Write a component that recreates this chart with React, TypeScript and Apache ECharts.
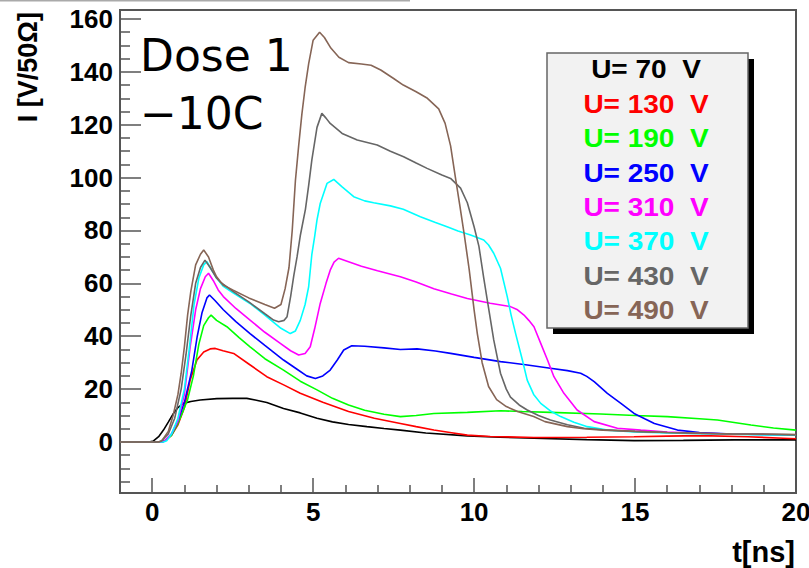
import React, { useEffect, useRef } from "react";
import * as echarts from "echarts";

// ---------- data (t in ns, I in V/50Ω) ----------
const labels = ["U= 70  V", "U= 130  V", "U= 190  V", "U= 250  V", "U= 310  V", "U= 370  V", "U= 430  V", "U= 490  V"];
const colors = ["#000000", "#ff0000", "#00ff00", "#0000ff", "#ff00ff", "#00ffff", "#666666", "#866556"];

const u70: [number, number][] = [
  [-1, 0], [-0.1, 0], [0.04, 0.4], [0.2, 2], [0.35, 4.5], [0.5, 7.5], [0.66, 10.8], [0.8, 13], [0.97, 14.6],
  [1.2, 15.3], [1.49, 15.9], [2.01, 16.4], [2.5, 16.5], [2.94, 16.5], [3.2, 15.9], [3.56, 14.9], [4.08, 12.7],
  [4.6, 11], [5.12, 9], [5.6, 7.6], [6.1, 6.6], [6.67, 5.8], [7.2, 5.1], [7.71, 4.5], [8.5, 3.4], [9.79, 2.3],
  [10.8, 1.8], [11.86, 1.4], [13.5, 0.9], [14.97, 0.5], [16.5, 0.6], [18.08, 0.8], [20, 0.8],
];
const u130: [number, number][] = [
  [-1, 0], [0.3, 0], [0.4, 0.5], [0.6, 2.5], [0.8, 6.5], [1.0, 13], [1.18, 23.4], [1.39, 31], [1.6, 34],
  [1.8, 35.2], [1.96, 35.4], [2.2, 34.5], [2.53, 33.5], [3.0, 29.5], [3.56, 24.7], [4.1, 21.5], [4.6, 18.4],
  [5.3, 15], [6.1, 11.5], [6.9, 9], [7.71, 7], [8.2, 5.8], [8.75, 4.5], [9.3, 3.5], [9.79, 2.6], [10.5, 2.1],
  [11.86, 1.7], [13.5, 1.8], [14.97, 2], [16, 2.2], [17.05, 2.4], [18.5, 2], [19.6, 1.4], [20, 1.2],
];
const u190: [number, number][] = [
  [-1, 0], [0.3, 0], [0.4, 0.5], [0.6, 2.5], [0.8, 7], [1.0, 13], [1.1, 16], [1.28, 25], [1.45, 37], [1.6, 44],
  [1.75, 47], [1.83, 48], [2.0, 46], [2.32, 43.6], [2.7, 39.5], [3.04, 36], [3.5, 31.5], [4.08, 27.2], [4.6, 23],
  [5.12, 19.7], [5.6, 16.5], [6.1, 14], [6.6, 12], [7.2, 10.5], [7.71, 9.6], [8.2, 10], [8.75, 10.8], [9.79, 11.2],
  [10.82, 11.8], [11.5, 11.5], [12.37, 11.2], [13.93, 10.6], [15, 10], [16, 9.6], [17, 8.8], [17.56, 8.3],
  [18.6, 6.4], [19.3, 5.3], [20, 4.5],
];
const u250: [number, number][] = [
  [-1, 0], [0.3, 0], [0.4, 0.5], [0.6, 3], [0.8, 8], [1.0, 15], [1.23, 27], [1.4, 40], [1.55, 49], [1.7, 54.5],
  [1.78, 55.6], [1.95, 53.5], [2.21, 50], [2.6, 45.5], [3.04, 41], [3.5, 36.5], [4.08, 31], [4.5, 27.5], [4.8, 25],
  [5.07, 24], [5.3, 25], [5.53, 27.2], [5.75, 31], [5.95, 34.8], [6.2, 36.4], [6.6, 36.2], [7.2, 35.6], [7.71, 35],
  [8.23, 35.2], [8.8, 34.4], [9.27, 33.5], [10.0, 32], [10.82, 30.4], [11.6, 29.2], [12.37, 27.9], [12.9, 27],
  [13.31, 26], [13.5, 24.8], [13.73, 22.8], [14.14, 18.4], [14.56, 14.6], [14.97, 10.8], [15.3, 8.8], [15.6, 7],
  [16.32, 4.5], [17, 3.6], [18, 3], [19, 2.8], [20, 2.7],
];
const u310: [number, number][] = [
  [-1, 0], [0.3, 0], [0.4, 0.5], [0.6, 3], [0.8, 8], [1.0, 18], [1.18, 36], [1.35, 50], [1.5, 58], [1.65, 62.5],
  [1.75, 63.8], [1.9, 61], [2.05, 57.5], [2.21, 55], [2.6, 50.5], [3.04, 46.1], [3.5, 41.5], [3.98, 37.3],
  [4.3, 34.5], [4.55, 32.9], [4.75, 33.5], [4.91, 36], [5.05, 43], [5.22, 52.4], [5.4, 60], [5.53, 65], [5.65, 68],
  [5.79, 69.5], [6.1, 68.2], [6.5, 66.5], [7.0, 64.8], [7.71, 62.5], [8.2, 60.5], [8.75, 58], [9.3, 56],
  [9.79, 54.3], [10.5, 52.5], [11.13, 51.2], [11.35, 50], [11.55, 48], [11.7, 46], [11.86, 43.6], [12.07, 37.3],
  [12.28, 31], [12.48, 24.7], [12.79, 18.4], [13.2, 12.1], [13.73, 7.7], [14.45, 5.2], [15.18, 4.5], [16, 3.8],
  [17, 3.3], [18, 3], [19, 2.8], [20, 2.6],
];
const u370: [number, number][] = [
  [-1, 0], [0.35, 0], [0.45, 0.5], [0.6, 3], [0.8, 9], [1.0, 20], [1.15, 35], [1.3, 52], [1.45, 62], [1.6, 67],
  [1.7, 68.2], [1.85, 65], [2.0, 62], [2.2, 59], [2.5, 56.5], [3.04, 52.4], [3.5, 48], [4.0, 43], [4.29, 41],
  [4.45, 42], [4.6, 46], [4.75, 52], [4.86, 58.7], [4.96, 71], [5.05, 78], [5.12, 84], [5.22, 90.2], [5.43, 97.8],
  [5.64, 99.3], [5.9, 96.5], [6.26, 92.8], [6.6, 91.2], [6.88, 90.5], [7.4, 89.3], [7.8, 88], [8.33, 85.2],
  [8.8, 83], [9.16, 81.4], [9.5, 79.8], [9.89, 78.3], [10.3, 76.4], [10.45, 74.5], [10.61, 71.4], [10.82, 65.7],
  [11.03, 55], [11.15, 48], [11.29, 41], [11.5, 31], [11.65, 23.4], [11.85, 18], [12.07, 14.6], [12.4, 11.5],
  [12.69, 9.6], [13.1, 7.5], [13.52, 5.8], [14.14, 4.5], [15, 3.8], [16, 3.4], [17, 3.1], [18, 2.9], [19, 2.7],
  [20, 2.6],
];
const u430: [number, number][] = [
  [-1, 0], [0.2, 0], [0.3, 0.5], [0.5, 3], [0.7, 9], [0.9, 20], [1.05, 33], [1.2, 48], [1.35, 60], [1.5, 66],
  [1.64, 68.8], [1.8, 66], [2.0, 62], [2.11, 60.6], [2.53, 56.8], [3.0, 53], [3.5, 48.5], [3.77, 46.1],
  [3.93, 45.5], [4.1, 46], [4.19, 47.4], [4.3, 55], [4.4, 63], [4.5, 70], [4.6, 78], [4.76, 88], [4.86, 97],
  [4.96, 106.7], [5.12, 119], [5.27, 124.3], [5.4, 122.5], [5.53, 120.5], [5.9, 116.7], [6.37, 114.2],
  [6.99, 112.3], [7.4, 110], [7.81, 107.9], [8.2, 105.5], [8.54, 103.5], [9.0, 101], [9.27, 99.7], [9.58, 96],
  [9.79, 90.5], [10.0, 81.4], [10.15, 74], [10.3, 62], [10.41, 53.7], [10.61, 38.6], [10.82, 26], [11.0, 20],
  [11.13, 17], [11.4, 14], [11.65, 12.1], [12.0, 10], [12.37, 8.3], [12.9, 6.5], [13.42, 5.2], [14, 4.6],
  [15, 4], [16, 3.6], [17, 3.3], [18, 3], [19, 2.9], [20, 2.7],
];
const u490: [number, number][] = [
  [-1, 0], [0.2, 0], [0.3, 0.5], [0.5, 4], [0.65, 10], [0.8, 18], [0.9, 26], [1.0, 36], [1.1, 48], [1.2, 57],
  [1.35, 67], [1.5, 71], [1.6, 72.6], [1.75, 70], [1.9, 65], [2.0, 62.5], [2.2, 59.4], [2.5, 57.5], [3.0, 54.5],
  [3.5, 52], [3.8, 50.6], [4.0, 52], [4.13, 58], [4.25, 66], [4.35, 80], [4.45, 99], [4.55, 112], [4.65, 124],
  [4.75, 134], [4.86, 143], [5.0, 152], [5.2, 155], [5.35, 153], [5.55, 149], [5.8, 145.5], [6.1, 143.5],
  [6.5, 143], [6.8, 142.5], [7.1, 140.7], [7.5, 137.5], [7.8, 135], [8.2, 132.5], [8.55, 130], [8.9, 126],
  [9.1, 120.5], [9.27, 112], [9.42, 100], [9.55, 90], [9.7, 78], [9.85, 65], [10.0, 50], [10.1, 41], [10.25, 30],
  [10.45, 21], [10.7, 16], [11.0, 13.4], [11.35, 11.5], [11.85, 9.6], [12.2, 7.7], [12.9, 5.8], [13.4, 5],
  [14, 4.5], [15, 4], [16, 3.6], [17, 3.3], [18, 3], [19, 3], [20, 2.8],
];
const seriesData = [u70, u130, u190, u250, u310, u370, u430, u490];

const xMajor = [0, 5, 10, 15, 20];
const xMinor = [-1, 1, 2, 3, 4, 6, 7, 8, 9, 11, 12, 13, 14, 16, 17, 18, 19];
const yMajor = [0, 20, 40, 60, 80, 100, 120, 140, 160];
const yMinor = [-15, -10, -5, 5, 10, 15, 25, 30, 35, 45, 50, 55, 65, 70, 75, 85, 90, 95, 105, 110, 115, 125, 130, 135, 145, 150, 155];

const X_MIN = -1, X_MAX = 20, Y_MIN = -19.3, Y_MAX = 163.4;
const FONT = "'Liberation Sans', Arial, sans-serif";
const AX = "#555555";

export default function App() {
  const ref = useRef<HTMLDivElement>(null);
  useEffect(() => {
    if (!ref.current) return;
    const chart = echarts.init(ref.current, undefined, { renderer: "svg" });
    const baseAxis = (isX: boolean) => ({
      type: "value" as const,
      min: isX ? X_MIN : Y_MIN,
      max: isX ? X_MAX : Y_MAX,
      splitLine: { show: false },
    });
    const legendTexts = labels.map((l, i) => ({
      type: "text",
      x: 646,
      y: 70 + i * 34.4,
      scaleX: 1.12,
      z: 12,
      style: {
        text: l,
        fill: colors[i],
        font: `bold 25px ${FONT}`,
        textAlign: "center",
        textVerticalAlign: "middle",
      },
    }));
    chart.setOption({
      animation: false,
      backgroundColor: "#ffffff",
      grid: {
        left: 120, top: 10, width: 676, height: 483,
        show: true, borderColor: AX, borderWidth: 2, backgroundColor: "transparent",
        containLabel: false, outerBoundsMode: "none",
      },
      xAxis: [
        {
          ...baseAxis(true), position: "bottom",
          axisLine: { show: true, onZero: false, lineStyle: { color: AX, width: 2 } },
          axisTick: { show: true, inside: true, length: 15, customValues: xMajor, lineStyle: { color: AX, width: 1.5 } },
          axisLabel: { customValues: xMajor, fontSize: 26, fontWeight: "bold", fontFamily: FONT, color: "#000", margin: 6 },
        },
        {
          ...baseAxis(true), position: "bottom",
          axisLine: { show: false, onZero: false },
          axisTick: { show: true, inside: true, length: 8, customValues: xMinor, lineStyle: { color: AX, width: 1.5 } },
          axisLabel: { show: false },
        },
      ],
      yAxis: [
        {
          ...baseAxis(false), position: "left",
          axisLine: { show: true, onZero: false, lineStyle: { color: AX, width: 2 } },
          axisTick: { show: true, inside: true, length: 21, customValues: yMajor, lineStyle: { color: AX, width: 1.5 } },
          axisLabel: { customValues: yMajor, fontSize: 26, fontWeight: "bold", fontFamily: FONT, color: "#000", margin: 7 },
        },
        {
          ...baseAxis(false), position: "left",
          axisLine: { show: false, onZero: false },
          axisTick: { show: true, inside: true, length: 10, customValues: yMinor, lineStyle: { color: AX, width: 1.5 } },
          axisLabel: { show: false },
        },
      ],
      series: seriesData.map((d, i) => ({
        type: "line",
        name: labels[i],
        data: d,
        xAxisIndex: 0,
        yAxisIndex: 0,
        showSymbol: false,
        symbol: "none",
        lineStyle: { color: colors[i], width: 1.6 },
        itemStyle: { color: colors[i] },
        z: 2 + i,
      })),
      graphic: [
        { type: "line", shape: { x1: 0, y1: 0.75, x2: 410, y2: 0.75 }, style: { stroke: "#aaaaaa", lineWidth: 1.5 }, z: 10 },
        {
          type: "text", x: 140, y: 77, z: 10,
          style: { text: "Dose 1", fill: "#000", font: "44px 'DejaVu Sans', sans-serif", textAlign: "left", textVerticalAlign: "bottom" },
        },
        {
          type: "text", x: 140, y: 135, z: 10,
          style: { text: "\u221210C", fill: "#000", font: "44px 'DejaVu Sans', sans-serif", textAlign: "left", textVerticalAlign: "bottom" },
        },
        {
          type: "text", x: 28, y: 12, rotation: Math.PI / 2, z: 10,
          style: { text: "I [V/50\u03A9]", fill: "#000", font: `bold 27px ${FONT}`, textAlign: "right", textVerticalAlign: "middle" },
        },
        {
          type: "text", x: 795, y: 552, z: 10,
          style: { text: "t[ns]", fill: "#000", font: `bold 29px ${FONT}`, textAlign: "right", textVerticalAlign: "middle" },
        },
        { type: "rect", shape: { x: 553, y: 59, width: 201, height: 275 }, style: { fill: "#000000" }, z: 10 },
        { type: "rect", shape: { x: 547, y: 53, width: 201, height: 275 }, style: { fill: "#f2f2f2", stroke: "#666666", lineWidth: 1.5 }, z: 11 },
        ...legendTexts,
      ],
    });
    return () => chart.dispose();
  }, []);
  return <div ref={ref} style={{ position: "fixed", left: 0, top: 0, width: 809, height: 568 }} />;
}
